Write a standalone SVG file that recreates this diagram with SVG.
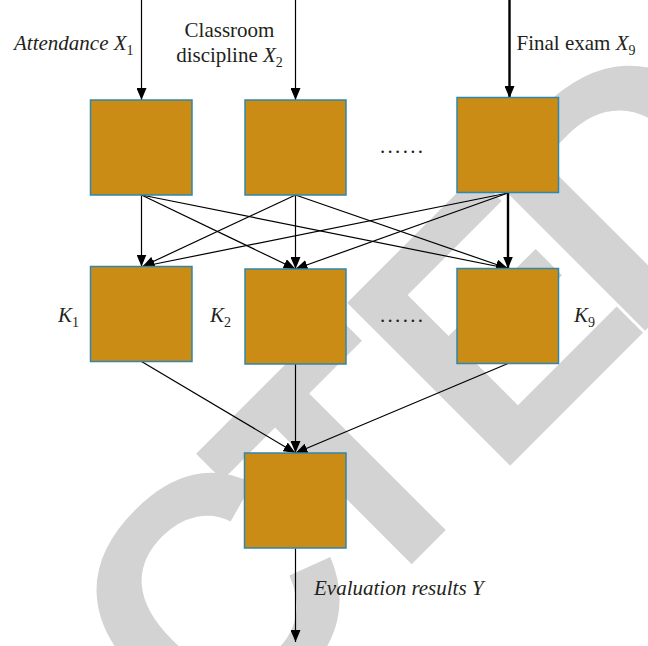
<svg xmlns="http://www.w3.org/2000/svg" width="648" height="646" viewBox="0 0 648 646">
<defs>
<style>
.box{fill:#CA8C14;stroke:#2F86AE;stroke-width:1.5}
.ln{stroke:#000;stroke-width:1.2;fill:none}
.thick{stroke:#000;stroke-width:2.4;fill:none}
.t{font-family:"Liberation Serif","Times New Roman",serif;font-size:21px;fill:#231f20}
.i{font-style:italic}
.sub{font-size:14px;font-style:normal}
.wm{font-family:"Liberation Sans",Arial,sans-serif;font-weight:bold;font-size:335px;fill:#d3d3d3}
</style>
<marker id="ah" markerUnits="userSpaceOnUse" viewBox="0 0 12 10" markerWidth="12" markerHeight="10" refX="12" refY="5" orient="auto">
<path d="M0,0 L12,5 L0,10 z" fill="#000"/>
</marker>
</defs>
<rect width="648" height="646" fill="#fff"/>
<g id="watermark">
<text class="wm" transform="rotate(-45)" x="-1547 -1305 -1082 -877 -635 -393 -186 9 200" y="690">RETRACTED</text>
</g>
<g id="connectors">
<line class="ln" x1="141.5" y1="0" x2="141.5" y2="100" marker-end="url(#ah)"/>
<line class="ln" x1="295.5" y1="0" x2="295.5" y2="100" marker-end="url(#ah)"/>
<line class="thick" x1="509.5" y1="0" x2="509.5" y2="98" marker-end="url(#ah)"/>
<line class="ln" x1="141.5" y1="195" x2="141.5" y2="266.5" marker-end="url(#ah)"/>
<line class="ln" x1="141.5" y1="195" x2="295.5" y2="269" marker-end="url(#ah)"/>
<line class="ln" x1="141.5" y1="195" x2="508" y2="268.5" marker-end="url(#ah)"/>
<line class="ln" x1="295.5" y1="195" x2="142.5" y2="266.5" marker-end="url(#ah)"/>
<line class="ln" x1="295.5" y1="195" x2="295.5" y2="269" marker-end="url(#ah)"/>
<line class="ln" x1="295.5" y1="195" x2="508" y2="268.5" marker-end="url(#ah)"/>
<line class="ln" x1="508" y1="193" x2="142.5" y2="266.5" marker-end="url(#ah)"/>
<line class="ln" x1="508" y1="193" x2="295.5" y2="269" marker-end="url(#ah)"/>
<line class="thick" x1="508" y1="193" x2="508" y2="268.5" marker-end="url(#ah)"/>
<line class="ln" x1="141.5" y1="361.5" x2="295.5" y2="453" marker-end="url(#ah)"/>
<line class="ln" x1="295.5" y1="364" x2="295.5" y2="453" marker-end="url(#ah)"/>
<line class="ln" x1="508" y1="363.5" x2="295.5" y2="453" marker-end="url(#ah)"/>
<line class="ln" x1="295.5" y1="548.5" x2="295.5" y2="642" marker-end="url(#ah)"/>
</g>
<g id="in1">
<rect class="box" x="90.5" y="100" width="101.5" height="95"/>
<text class="t i" x="14" y="50">Attendance X<tspan class="sub" dy="5">1</tspan></text>
</g>
<g id="in2">
<rect class="box" x="245" y="100" width="101" height="95"/>
<text class="t" x="229.5" y="36.5" text-anchor="middle">Classroom</text>
<text class="t" x="229.5" y="62" text-anchor="middle">discipline <tspan class="i">X</tspan><tspan class="sub" dy="5">2</tspan></text>
</g>
<g id="in9">
<rect class="box" x="457" y="97.5" width="101.5" height="95"/>
<text class="t" x="516.5" y="50">Final exam <tspan class="i">X</tspan><tspan class="sub" dy="5">9</tspan></text>
</g>
<g id="dots1"><text class="t" x="380" y="153" letter-spacing="2.3">......</text></g>
<g id="k1">
<rect class="box" x="90.5" y="266.5" width="101.5" height="95"/>
<text class="t i" x="58" y="321.5">K<tspan class="sub" dy="5">1</tspan></text>
</g>
<g id="k2">
<rect class="box" x="245" y="269" width="101" height="95"/>
<text class="t i" x="210" y="321.5">K<tspan class="sub" dy="5">2</tspan></text>
</g>
<g id="dots2"><text class="t" x="380" y="322" letter-spacing="2.3">......</text></g>
<g id="k9">
<rect class="box" x="457" y="268.5" width="101.5" height="95"/>
<text class="t i" x="574" y="321.5">K<tspan class="sub" dy="5">9</tspan></text>
</g>
<g id="out">
<rect class="box" x="244.5" y="453" width="101.5" height="95"/>
<text class="t i" x="314" y="595">Evaluation results Y</text>
</g>
</svg>
